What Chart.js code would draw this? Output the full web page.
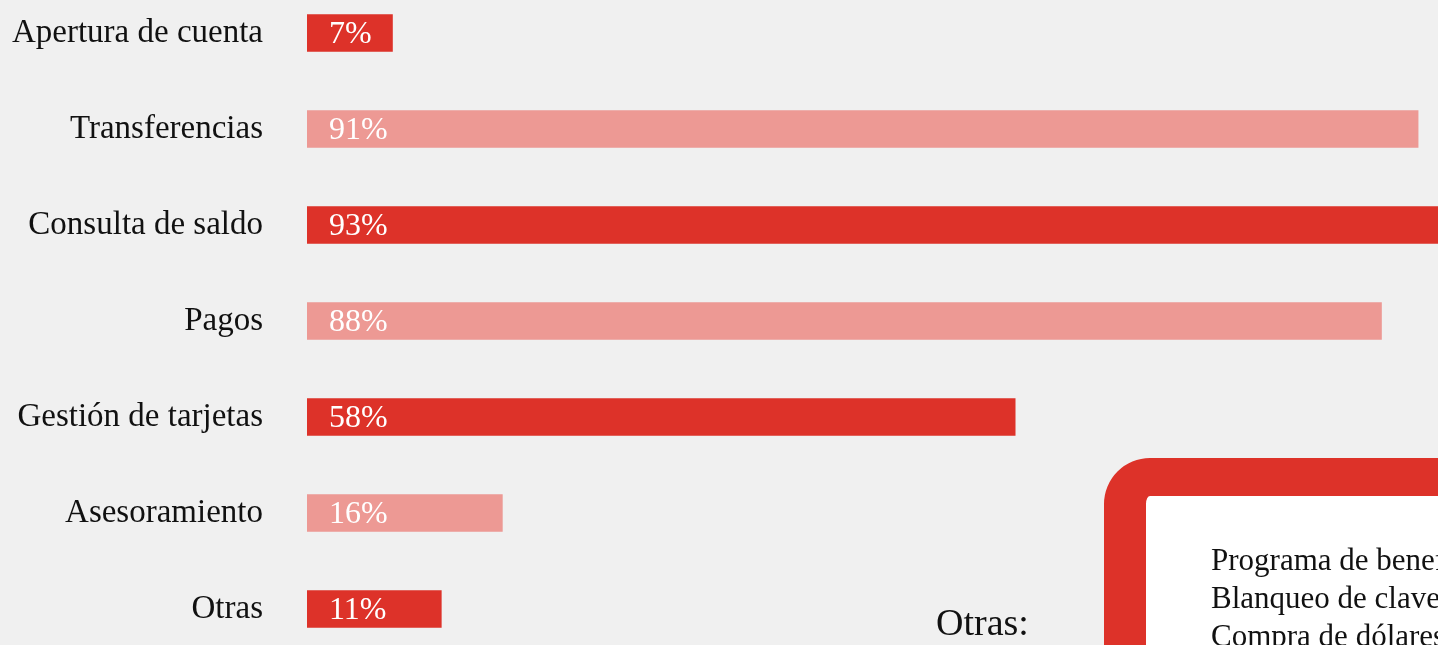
<!DOCTYPE html>
<html lang="es">
<head>
<meta charset="utf-8">
<script src="https://cdn.jsdelivr.net/npm/chart.js@4"></script>
<style>
    html, body {
        margin: 0;
        padding: 0;
        width: 1438px;
        height: 645px;
        overflow: hidden;
        background: #f0f0f0;
        font-family: 'Liberation Serif', serif;
        color: #111;
    }
    #wrap {
        position: absolute;
        left: 0;
        top: -15px;
        width: 1528px;
        height: 672px;
    }
    #otras {
        position: absolute;
        left: 936px;
        top: 602px;
        font-size: 38px;
        line-height: 40px;
        white-space: nowrap;
    }
    #caja {
        position: absolute;
        left: 1104px;
        top: 458px;
        width: 400px;
        height: 260px;
        box-sizing: border-box;
        border: 42px solid #dd3229;
        border-top-width: 38px;
        border-radius: 46px;
        background: #ffffff;
    }
    #caja div {
        position: absolute;
        left: 65px;
        top: 45px;
        font-size: 31px;
        line-height: 38px;
        white-space: nowrap;
    }
</style>
</head>
<body>
<div id="wrap"><canvas id="chartUso"></canvas></div>
<div id="otras">Otras:</div>
<div id="caja"><div id="lista"></div></div>

<script>
// datos del grafico
var categorias = ['Apertura de cuenta', 'Transferencias', 'Consulta de saldo', 'Pagos', 'Gestión de tarjetas', 'Asesoramiento', 'Otras'];
var porcentajes = [7, 91, 93, 88, 58, 16, 11];
var otrasOperaciones = ['Programa de beneficios', 'Blanqueo de claves', 'Compra de dólares'];

var rojo = '#dd3229';
var rosa = '#ed9994';

// barras alternadas rojo / rosa
var colores = [];
for (var i = 0; i < porcentajes.length; i++) {
    colores.push(i % 2 === 0 ? rojo : rosa);
}

document.getElementById('lista').innerHTML = otrasOperaciones.join('<br>');

// escribe el porcentaje dentro de cada barra
var etiquetasValor = {
    id: 'etiquetasValor',
    afterDatasetsDraw: function (chart) {
        var ctx = chart.ctx;
        var meta = chart.getDatasetMeta(0);
        ctx.save();
        ctx.fillStyle = '#ffffff';
        ctx.font = '32px "Liberation Serif"';
        ctx.textAlign = 'left';
        ctx.textBaseline = 'middle';
        meta.data.forEach(function (bar, index) {
            ctx.fillText(porcentajes[index] + '%', bar.base + 22, bar.y + 2);
        });
        ctx.restore();
    }
};

var ctx = document.getElementById('chartUso').getContext('2d');
var myChart = new Chart(ctx, {
    type: 'bar',
    data: {
        labels: categorias,
        datasets: [{
            data: porcentajes,
            backgroundColor: colores,
            borderWidth: 0,
            barThickness: 37
        }]
    },
    options: {
        indexAxis: 'y',
        responsive: true,
        maintainAspectRatio: false,
        animation: false,
        layout: { padding: 0 },
        scales: {
            x: {
                display: false,
                min: 0,
                max: 100
            },
            y: {
                grid: { display: false, drawTicks: false },
                border: { display: false },
                ticks: {
                    color: '#111111',
                    padding: 44,
                    font: { family: 'Liberation Serif', size: 33 }
                },
                afterFit: function (scale) {
                    // ancho fijo del eje y sin relleno vertical
                    scale.width = 307;
                    scale.paddingTop = 0;
                    scale.paddingBottom = 0;
                }
            }
        },
        plugins: {
            legend: { display: false },
            tooltip: { enabled: false }
        }
    },
    plugins: [etiquetasValor]
});
</script>
</body>
</html>
